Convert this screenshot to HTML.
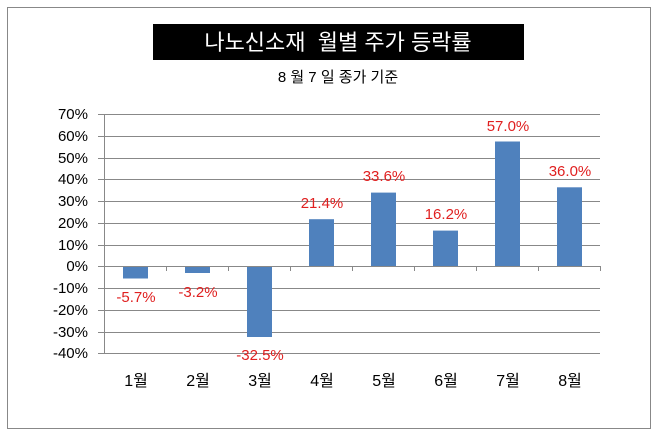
<!DOCTYPE html>
<html><head><meta charset="utf-8"><style>
body{margin:0;background:#fff;}
svg text{font-family:"Liberation Sans","Noto Sans CJK KR",sans-serif;}
</style></head><body>
<svg width="658" height="436" xmlns="http://www.w3.org/2000/svg">
<rect x="7.5" y="7.5" width="643" height="421" fill="#fff" stroke="#888" stroke-width="1"/>
<rect x="153" y="24" width="371" height="36" fill="#000"/>
<text x="338" y="50" font-size="22" fill="#fff" text-anchor="middle" style="white-space:pre" xml:space="preserve">나노신소재  월별 주가 등락률</text>
<text x="338" y="82" font-size="15" fill="#000" text-anchor="middle">8 월 7 일 종가 기준</text>
<g stroke="#888" stroke-width="1">
<line x1="98" y1="114.5" x2="600" y2="114.5"/>
<line x1="98" y1="136.5" x2="600" y2="136.5"/>
<line x1="98" y1="158.5" x2="600" y2="158.5"/>
<line x1="98" y1="179.5" x2="600" y2="179.5"/>
<line x1="98" y1="201.5" x2="600" y2="201.5"/>
<line x1="98" y1="223.5" x2="600" y2="223.5"/>
<line x1="98" y1="245.5" x2="600" y2="245.5"/>
<line x1="98" y1="288.5" x2="600" y2="288.5"/>
<line x1="98" y1="310.5" x2="600" y2="310.5"/>
<line x1="98" y1="332.5" x2="600" y2="332.5"/>
<line x1="98" y1="353.5" x2="600" y2="353.5"/>
<line x1="104.5" y1="114" x2="104.5" y2="354"/>
</g>
<g fill="#4f81bd">
<rect x="123" y="266" width="25" height="12.5"/>
<rect x="185" y="266" width="25" height="7"/>
<rect x="247" y="266" width="25" height="71"/>
<rect x="309" y="219.2" width="25" height="46.8"/>
<rect x="371" y="192.6" width="25" height="73.4"/>
<rect x="433" y="230.6" width="25" height="35.4"/>
<rect x="495" y="141.5" width="25" height="124.5"/>
<rect x="557" y="187.3" width="25" height="78.7"/>
</g>
<g stroke="#888"><line x1="98" y1="266.5" x2="600" y2="266.5"/>
<line x1="166.5" y1="266" x2="166.5" y2="271"/><line x1="228.5" y1="266" x2="228.5" y2="271"/><line x1="290.5" y1="266" x2="290.5" y2="271"/><line x1="352.5" y1="266" x2="352.5" y2="271"/><line x1="414.5" y1="266" x2="414.5" y2="271"/><line x1="476.5" y1="266" x2="476.5" y2="271"/><line x1="538.5" y1="266" x2="538.5" y2="271"/><line x1="600.5" y1="266" x2="600.5" y2="271"/></g>
<g font-size="15" fill="#000" text-anchor="end">
<text x="88" y="119">70%</text><text x="88" y="141">60%</text><text x="88" y="163">50%</text><text x="88" y="184">40%</text><text x="88" y="206">30%</text><text x="88" y="228">20%</text><text x="88" y="250">10%</text><text x="88" y="271">0%</text><text x="88" y="293">-10%</text><text x="88" y="315">-20%</text><text x="88" y="337">-30%</text><text x="88" y="358">-40%</text>
</g>
<g font-size="16" fill="#000" text-anchor="middle">
<text x="136" y="386">1월</text><text x="198" y="386">2월</text><text x="260" y="386">3월</text><text x="322" y="386">4월</text><text x="384" y="386">5월</text><text x="446" y="386">6월</text><text x="508" y="386">7월</text><text x="570" y="386">8월</text>
</g>
<g font-size="15" fill="#e02020" text-anchor="middle">
<text x="136" y="302">-5.7%</text><text x="198" y="297">-3.2%</text><text x="260" y="360">-32.5%</text><text x="322" y="208">21.4%</text><text x="384" y="181">33.6%</text><text x="446" y="219">16.2%</text><text x="508" y="131">57.0%</text><text x="570" y="176">36.0%</text>
</g>
</svg>
</body></html>
